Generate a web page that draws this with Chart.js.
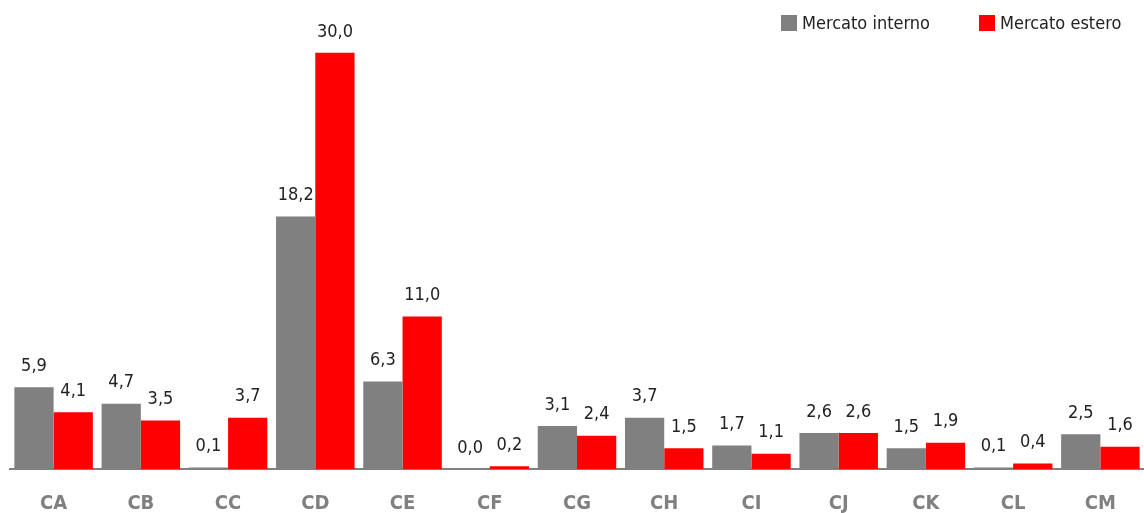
<!DOCTYPE html>
<html lang="it">
<head>
    <meta charset="UTF-8">
    <title>Mercato interno / estero</title>
    <script src="https://cdn.jsdelivr.net/npm/chart.js"></script>
    <style>
        html, body { margin: 0; padding: 0; background: #fff; }
        #wrap { width: 1144px; height: 513px; position: relative; }
    </style>
</head>
<body>
    <div id="wrap"><canvas id="chart"></canvas></div>
    <script>
        const categories = ['CA', 'CB', 'CC', 'CD', 'CE', 'CF', 'CG', 'CH', 'CI', 'CJ', 'CK', 'CL', 'CM'];
        const interno = [5.9, 4.7, 0.1, 18.2, 6.3, 0.0, 3.1, 3.7, 1.7, 2.6, 1.5, 0.1, 2.5];
        const estero = [4.1, 3.5, 3.7, 30.0, 11.0, 0.2, 2.4, 1.5, 1.1, 2.6, 1.9, 0.4, 1.6];

        const fontFamily = "'DejaVu Sans Condensed', 'Liberation Sans', sans-serif";

        // etichette sopra le barre, con la virgola decimale
        const barLabels = {
            id: 'barLabels',
            afterDatasetsDraw(chart) {
                const ctx = chart.ctx;
                ctx.save();
                ctx.font = '18px ' + fontFamily;
                ctx.fillStyle = '#222';
                ctx.textAlign = 'center';
                ctx.textBaseline = 'bottom';
                chart.data.datasets.forEach((ds, i) => {
                    chart.getDatasetMeta(i).data.forEach((bar, j) => {
                        const txt = ds.data[j].toFixed(1).replace('.', ',');
                        ctx.fillText(txt, bar.x, bar.y - 12);
                    });
                });
                ctx.restore();
            }
        };

        // legenda in alto a destra, dentro l'area del grafico
        const topLegend = {
            id: 'topLegend',
            afterDraw(chart) {
                const ctx = chart.ctx;
                const starts = [781, 979];
                ctx.save();
                ctx.font = '18px ' + fontFamily;
                ctx.textBaseline = 'middle';
                ctx.textAlign = 'left';
                chart.data.datasets.forEach((ds, i) => {
                    const x = starts[i];
                    ctx.fillStyle = ds.backgroundColor;
                    ctx.fillRect(x, 15, 16, 16);
                    ctx.fillStyle = '#222';
                    ctx.fillText(ds.label, x + 21, 24);
                });
                ctx.restore();
            }
        };

        new Chart(document.getElementById('chart'), {
            type: 'bar',
            data: {
                labels: categories,
                datasets: [
                    { label: 'Mercato interno', data: interno, backgroundColor: '#808080' },
                    { label: 'Mercato estero', data: estero, backgroundColor: '#ff0000' }
                ]
            },
            options: {
                responsive: true,
                maintainAspectRatio: false,
                animation: false,
                layout: { padding: { left: 10, right: 0, top: 39, bottom: -18 } },
                datasets: {
                    bar: { categoryPercentage: 0.9, barPercentage: 1.0 }
                },
                plugins: {
                    legend: { display: false },
                    tooltip: { enabled: false }
                },
                scales: {
                    x: {
                        grid: { display: false },
                        border: { color: '#808080', width: 2 },
                        ticks: {
                            color: '#808080',
                            padding: 17,
                            font: { family: fontFamily, size: 20, weight: 'bold', lineHeight: 1 }
                        }
                    },
                    y: {
                        display: false,
                        min: 0,
                        max: 31
                    }
                }
            },
            plugins: [barLabels, topLegend]
        });
    </script>
</body>
</html>
